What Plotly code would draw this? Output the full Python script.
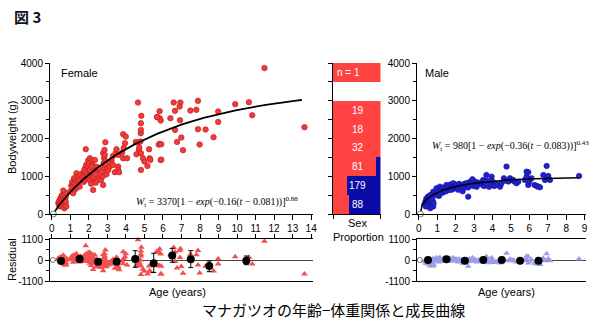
import numpy as np
import plotly.graph_objects as go

# ---------------- data ----------------
# Female: (age in years, bodyweight in g)
female_pts = [
    (0.35, 300), (0.38, 250), (0.40, 350), (0.42, 200), (0.45, 280), (0.45, 400), (0.48, 320),
    (0.50, 250), (0.50, 450), (0.52, 380), (0.55, 300), (0.55, 500), (0.58, 200), (0.60, 350),
    (0.60, 420), (0.62, 620), (0.65, 280), (0.65, 480), (0.68, 150), (0.70, 380), (0.72, 250),
    (0.75, 450), (0.75, 320), (0.78, 200), (0.80, 550),
    (1.00, 600), (1.05, 750), (1.10, 700), (1.10, 850), (1.15, 550), (1.20, 800), (1.20, 950),
    (1.25, 650), (1.25, 814), (1.30, 900), (1.33, 1080), (1.35, 700), (1.40, 850), (1.45, 1000),
    (1.50, 725), (1.50, 900), (1.55, 1050),
    (1.65, 950), (1.70, 1100), (1.72, 850), (1.75, 1000), (1.78, 1200), (1.80, 900), (1.83, 1716),
    (1.85, 1300), (1.88, 1050), (1.90, 1150), (1.92, 950), (1.95, 1250), (1.96, 1414), (2.00, 1000),
    (2.00, 1100), (2.02, 1350), (2.05, 1477), (2.05, 900), (2.08, 1200), (2.10, 1050), (2.12, 800),
    (2.15, 1150), (2.18, 1000), (2.19, 1414), (2.20, 1300), (2.22, 950), (2.23, 637), (2.25, 1100),
    (2.28, 1200), (2.30, 1000), (2.32, 1432), (2.35, 1150), (2.37, 830), (2.40, 1050), (2.42, 1250),
    (2.45, 900), (2.48, 1100), (2.50, 1000), (2.55, 1200), (2.60, 1050), (2.65, 900),
    (1.75, 1150), (1.85, 1080), (1.95, 1020), (2.05, 1180), (2.15, 1260), (2.25, 980), (2.35, 1060),
    (2.75, 1000), (2.77, 1610), (2.77, 769), (2.80, 1345), (2.80, 1200), (2.82, 1477), (2.84, 1698),
    (2.86, 1565), (2.88, 1100), (2.89, 1902), (2.90, 1400), (2.92, 1300), (2.95, 1050),
    (3.04, 1212), (3.04, 1167), (3.13, 1255), (3.22, 1432), (3.22, 1345), (3.30, 1300), (3.30, 1538),
    (3.40, 1106), (3.45, 1610), (3.49, 1716), (3.58, 1565), (3.58, 1255), (3.58, 1167), (3.63, 1106),
    (3.79, 1626), (3.85, 2114), (3.85, 1477), (3.88, 1750), (3.95, 1875), (3.99, 2050), (4.06, 1477),
    (4.53, 1910), (4.57, 1583), (4.65, 2952), (4.65, 1891), (4.70, 1700), (4.72, 1760), (4.78, 1918),
    (4.80, 2140), (4.81, 2228), (4.81, 2406), (4.83, 2600), (4.81, 1610), (4.81, 1167), (4.92, 1477),
    (5.00, 1388),
    (5.16, 1273), (5.25, 1716), (5.28, 1477), (5.32, 1432), (5.68, 2565), (5.82, 2538), (5.88, 2475),
    (5.82, 1857), (5.88, 1432), (5.77, 1838), (5.91, 1848), (5.91, 1440), (5.82, 2724), (5.68, 2573),
    (6.40, 2538), (6.58, 2952), (6.65, 2732), (6.65, 2228), (6.76, 1910), (6.90, 2846), (6.92, 2485),
    (6.94, 2952), (6.99, 2024), (7.08, 1690),
    (7.48, 2740), (7.80, 2759), (7.89, 2997), (7.89, 2246), (7.98, 1840), (8.30, 2236), (8.73, 2034),
    (8.98, 2715), (8.98, 2440),
    (9.90, 2910), (10.64, 2960), (10.82, 2617), (11.48, 3865), (13.64, 2300),
]

# Male: (age in years, bodyweight in g)
male_pts = [
    (0.30, 250), (0.35, 320), (0.38, 200), (0.40, 400), (0.42, 300), (0.45, 350), (0.45, 250),
    (0.48, 450), (0.50, 300), (0.50, 380), (0.52, 200), (0.53, 460), (0.55, 320), (0.55, 420),
    (0.58, 350), (0.60, 280), (0.60, 480), (0.62, 150), (0.63, 504), (0.65, 380), (0.68, 300),
    (0.70, 420), (0.72, 250), (0.75, 350), (0.78, 200), (0.80, 284),
    (0.78, 590), (0.87, 548), (0.95, 500), (0.96, 680), (1.05, 590), (1.09, 480), (1.14, 725),
    (1.14, 548), (1.19, 650), (1.24, 637), (1.29, 560), (1.33, 700), (1.38, 620),
    (1.48, 600), (1.50, 769), (1.52, 680), (1.59, 680), (1.62, 720), (1.69, 637), (1.71, 780),
    (1.78, 708), (1.81, 650), (1.87, 796), (1.87, 814), (1.90, 720), (1.95, 680), (2.00, 760),
    (2.05, 769), (2.09, 700), (2.14, 640), (2.19, 800), (2.24, 720), (2.28, 680), (2.33, 760),
    (2.38, 600),
    (2.43, 700), (2.48, 800), (2.50, 725), (2.57, 780), (2.59, 814), (2.67, 700), (2.68, 460),
    (2.71, 760), (2.76, 850), (2.86, 800), (2.91, 920), (2.95, 740), (3.05, 860), (3.09, 780),
    (3.14, 720), (3.24, 830), (3.31, 814),
    (3.43, 780), (3.49, 902), (3.54, 740), (3.59, 857), (3.67, 1034), (3.71, 880), (3.81, 720),
    (3.90, 780), (3.95, 990), (4.00, 860), (4.09, 740), (4.19, 800), (4.26, 769),
    (4.41, 725), (4.47, 800), (4.62, 947), (4.66, 880), (4.76, 1255), (4.86, 860), (4.95, 947),
    (5.04, 902), (5.12, 902), (5.19, 860),
    (5.30, 814), (5.40, 857), (5.76, 902), (5.85, 990), (5.85, 1122), (5.94, 1106), (5.94, 770),
    (6.00, 860), (6.12, 947), (6.28, 769), (6.40, 743), (6.47, 725), (6.58, 708), (6.76, 1034),
    (6.85, 902), (6.94, 1273), (7.03, 1008), (7.12, 902),
    (8.70, 1008),
]

# Growth-curve parameters: W_t = Winf [1 - exp(-K (t - t0))]^b
female_fit = dict(winf=3370, k=0.16, t0=0.081, b=0.88)
male_fit = dict(winf=980, k=0.36, t0=0.083, b=0.43)

# Mean residual by age class (mid-age, mean, +err, -err)
female_class_age = [0.5, 1.5, 2.5, 3.5, 4.5, 5.5, 6.5, 7.5, 8.5, 10.5]
female_class_mean = [-50, 50, -90, -90, 50, -175, 230, 35, -315, -35]
female_class_up = [110, 150, 150, 150, 440, 525, 380, 455, 265, 245]
female_class_dn = [110, 150, 150, 150, 435, 475, 350, 435, 295, 210]

male_class_age = [0.5, 1.5, 2.5, 3.5, 4.5, 5.5, 6.5]
male_class_mean = [0, 35, -35, 0, 0, -35, -35]
male_class_err = [50, 50, 50, 50, 50, 50, 50]

# Sex proportion by 500 g weight class
weight_bin_lo = [0, 500, 1000, 1500, 2000, 2500, 3000, 3500]
bin_counts = ["88", "179", "81", "32", "18", "19", "", "n = 1"]
female_share = [0.34, 0.29, 0.91, 1.0, 1.0, 1.0, 0.0, 1.0]
male_share = [0.66, 0.71, 0.09, 0.0, 0.0, 0.0, 0.0, 0.0]

y_ticks = [0, 1000, 2000, 3000, 4000]
res_ticks = [-1100, 0, 1100]
res_ticktext = ["-1100", "0", "1100"]


def growth(t, winf, k, t0, b):
    t = np.asarray(t, dtype=float)
    return winf * (1.0 - np.exp(-k * (t - t0))) ** b


f_age = np.array([p[0] for p in female_pts])
f_wt = np.array([p[1] for p in female_pts])
m_age = np.array([p[0] for p in male_pts])
m_wt = np.array([p[1] for p in male_pts])

f_res = f_wt - growth(f_age, **female_fit)
m_res = m_wt - growth(m_age, **male_fit)

f_curve_t = np.linspace(female_fit["t0"], 13.5, 200)
m_curve_t = np.linspace(male_fit["t0"], 8.7, 200)

# ---------------- layout helpers ----------------
W, H = 596, 326


def px(x):
    return x / W


def py(y):
    return 1 - y / H


RED = "#ee3b3b"
RED_EDGE = "#c81e1e"
BLUE = "#2222cc"
BAR_RED = "#ff4343"
BAR_BLUE = "#0a0aa6"
TRI_RED = "#f25050"
TRI_BLUE = "#9c9ce8"
FONT = "Liberation Sans, Arial, sans-serif"

fig = go.Figure()

# Female bodyweight
fig.add_trace(go.Scatter(
    x=f_age, y=f_wt, mode="markers", xaxis="x", yaxis="y",
    marker=dict(size=5.5, color=RED, line=dict(color=RED_EDGE, width=0.7)),
    showlegend=False, cliponaxis=False))
fig.add_trace(go.Scatter(
    x=f_curve_t, y=growth(f_curve_t, **female_fit), mode="lines", xaxis="x", yaxis="y",
    line=dict(color="black", width=1.8), showlegend=False))
fig.add_trace(go.Scatter(
    x=[female_fit["t0"]], y=[0], mode="markers", xaxis="x", yaxis="y",
    marker=dict(symbol="circle", size=6, color="white", line=dict(color="#555", width=0.8)),
    showlegend=False, cliponaxis=False))

# Female residuals
fig.add_trace(go.Scatter(
    x=f_age, y=f_res, mode="markers", xaxis="x2", yaxis="y2",
    marker=dict(symbol="triangle-up", size=6, color=TRI_RED, line=dict(width=0)),
    showlegend=False, cliponaxis=False))
fig.add_trace(go.Scatter(
    x=[0.05], y=[0], mode="markers", xaxis="x2", yaxis="y2",
    marker=dict(symbol="circle", size=5, color="white", line=dict(color="#555", width=0.8)),
    showlegend=False, cliponaxis=False))
fig.add_trace(go.Scatter(
    x=female_class_age, y=female_class_mean, mode="markers", xaxis="x2", yaxis="y2",
    marker=dict(size=8, color="black"),
    error_y=dict(type="data", symmetric=False, array=female_class_up,
                 arrayminus=female_class_dn, color="black", thickness=1, width=2.5),
    showlegend=False, cliponaxis=False))

# Sex proportion bars
bin_mid = [b + 250 for b in weight_bin_lo]
fig.add_trace(go.Bar(
    x=female_share, y=bin_mid, orientation="h", width=500, xaxis="x3", yaxis="y3",
    marker=dict(color=BAR_RED, line=dict(width=0)), showlegend=False))
fig.add_trace(go.Bar(
    x=male_share, y=bin_mid, orientation="h", width=500, xaxis="x3", yaxis="y3",
    marker=dict(color=BAR_BLUE, line=dict(width=0)), showlegend=False))

# Male bodyweight
fig.add_trace(go.Scatter(
    x=m_age, y=m_wt, mode="markers", xaxis="x4", yaxis="y4",
    marker=dict(size=5.5, color=BLUE, line=dict(color="#1010a0", width=0.6)),
    showlegend=False, cliponaxis=False))
fig.add_trace(go.Scatter(
    x=m_curve_t, y=growth(m_curve_t, **male_fit), mode="lines", xaxis="x4", yaxis="y4",
    line=dict(color="black", width=1.5), showlegend=False))
fig.add_trace(go.Scatter(
    x=[male_fit["t0"]], y=[0], mode="markers", xaxis="x4", yaxis="y4",
    marker=dict(symbol="circle", size=6, color="white", line=dict(color="#555", width=0.8)),
    showlegend=False, cliponaxis=False))

# Male residuals
fig.add_trace(go.Scatter(
    x=m_age, y=m_res, mode="markers", xaxis="x5", yaxis="y5",
    marker=dict(symbol="triangle-up", size=6, color=TRI_BLUE, line=dict(width=0)),
    showlegend=False, cliponaxis=False))
fig.add_trace(go.Scatter(
    x=[0.05], y=[0], mode="markers", xaxis="x5", yaxis="y5",
    marker=dict(symbol="circle", size=5, color="white", line=dict(color="#555", width=0.8)),
    showlegend=False, cliponaxis=False))
fig.add_trace(go.Scatter(
    x=male_class_age, y=male_class_mean, mode="markers", xaxis="x5", yaxis="y5",
    marker=dict(size=8, color="black"),
    error_y=dict(type="data", array=male_class_err, color="black", thickness=1, width=2),
    showlegend=False, cliponaxis=False))

tickfont = dict(family=FONT, size=10, color="black")
axis_common = dict(showgrid=False, zeroline=False, showline=True, linecolor="black",
                   linewidth=1, ticks="outside", tickcolor="black", tickwidth=1,
                   tickfont=tickfont, automargin=False)

main_y_dom = [py(214), py(63)]
res_y_dom = [py(281), py(239)]
f_x_dom = [px(50), px(313)]
s_x_dom = [px(333), px(380.5)]
m_x_dom = [px(417), px(585.5)]

fig.update_layout(
    width=W, height=H, margin=dict(l=0, r=0, t=0, b=0, pad=0),
    paper_bgcolor="white", plot_bgcolor="white", barmode="stack", bargap=0,
    font=dict(family=FONT, color="black"),
    # female main
    xaxis=dict(axis_common, domain=f_x_dom, range=[-0.1, 14.1], anchor="y",
               tickmode="array", tickvals=list(range(15)), ticklen=5),
    yaxis=dict(axis_common, domain=main_y_dom, range=[0, 4000], anchor="x",
               tickvals=y_ticks, ticklen=4,
               minor=dict(dtick=500, tick0=0, ticks="outside", ticklen=3, tickcolor="black")),
    # female residual
    xaxis2=dict(axis_common, domain=f_x_dom, range=[-0.1, 14.1], anchor="y2", side="top",
                mirror=True, tickvals=list(range(15)), showticklabels=False, ticklen=4),
    yaxis2=dict(axis_common, domain=res_y_dom, range=[-1100, 1100], anchor="x2",
                tickvals=res_ticks, ticktext=res_ticktext, ticklen=4,
                zeroline=True, zerolinecolor="#444", zerolinewidth=0.8,
                minor=dict(tickvals=[-550, 550], ticks="outside", ticklen=3, tickcolor="black")),
    # sex proportion
    xaxis3=dict(axis_common, domain=s_x_dom, range=[0, 1], anchor="y3",
                tickvals=[0, 1], showticklabels=False, ticklen=4),
    yaxis3=dict(axis_common, domain=main_y_dom, range=[0, 4000], anchor="x3",
                tickvals=[0, 500, 1000, 1500, 2000, 2500, 3000, 3500, 4000],
                showticklabels=False, ticklen=4),
    # male main
    xaxis4=dict(axis_common, domain=m_x_dom, range=[-0.1, 9.05], anchor="y4",
                tickvals=list(range(10)), ticklen=5),
    yaxis4=dict(axis_common, domain=main_y_dom, range=[0, 4000], anchor="x4",
                tickvals=y_ticks, ticklen=4,
                minor=dict(dtick=500, tick0=0, ticks="outside", ticklen=3, tickcolor="black")),
    # male residual
    xaxis5=dict(axis_common, domain=m_x_dom, range=[-0.1, 9.05], anchor="y5", side="top",
                mirror=True, ticks="", showticklabels=False),
    yaxis5=dict(axis_common, domain=res_y_dom, range=[-1100, 1100], anchor="x5",
                tickvals=res_ticks, ticktext=res_ticktext, ticklen=4,
                zeroline=True, zerolinecolor="#444", zerolinewidth=0.8,
                minor=dict(tickvals=[-550, 550], ticks="outside", ticklen=3, tickcolor="black")),
)

annotations = []


def label(text, x, y, size=11, family=FONT, color="black", xanchor="center", **kw):
    annotations.append(dict(text=text, x=px(x), y=py(y), xref="paper", yref="paper",
                            xanchor=xanchor, yanchor="middle", showarrow=False,
                            font=dict(family=family, size=size, color=color), **kw))


label("<b>図 3</b>", 12, 16, size=15, family="Noto Sans CJK JP, sans-serif",
      color="#101018", xanchor="left")
label("Female", 59, 73, xanchor="left")
label("Male", 423, 73, xanchor="left")
label("Bodyweight (g)", 12, 138, textangle=-90)
label("Residual", 12, 260, textangle=-90)
label("Age (years)", 177, 292)
label("Age (years)", 506, 292)
label("Sex", 357, 223)
label("Proportion", 358, 237)

# Fitted-curve equations
SERIF = "Liberation Serif, Times New Roman, serif"
label("<i>W</i><sub>t</sub> = 3370[1 − <i>exp</i>(−0.16(<i>t</i> − 0.081))]<sup>0.88</sup>",
      300, 202, size=10, family=SERIF, xanchor="right")
label("<i>W</i><sub>t</sub> = 980[1 − <i>exp</i>(−0.36(<i>t</i> − 0.083))]<sup>0.43</sup>",
      430, 146, size=10, family=SERIF, xanchor="left")

# Class counts inside bars
for lo, txt in zip(weight_bin_lo, bin_counts):
    if not txt:
        continue
    xpos = 0.33 if txt.startswith("n") else 0.52
    annotations.append(dict(text=txt, x=xpos, y=lo + 250, xref="x3", yref="y3",
                            xanchor="center", yanchor="middle", showarrow=False,
                            font=dict(family=FONT, size=10, color="white")))

# Caption
label("マナガツオの年齢−体重関係と成長曲線", 333, 309, size=15,
      family="Noto Sans CJK JP, sans-serif")

fig.update_layout(annotations=annotations)

fig.write_html("out.html")
